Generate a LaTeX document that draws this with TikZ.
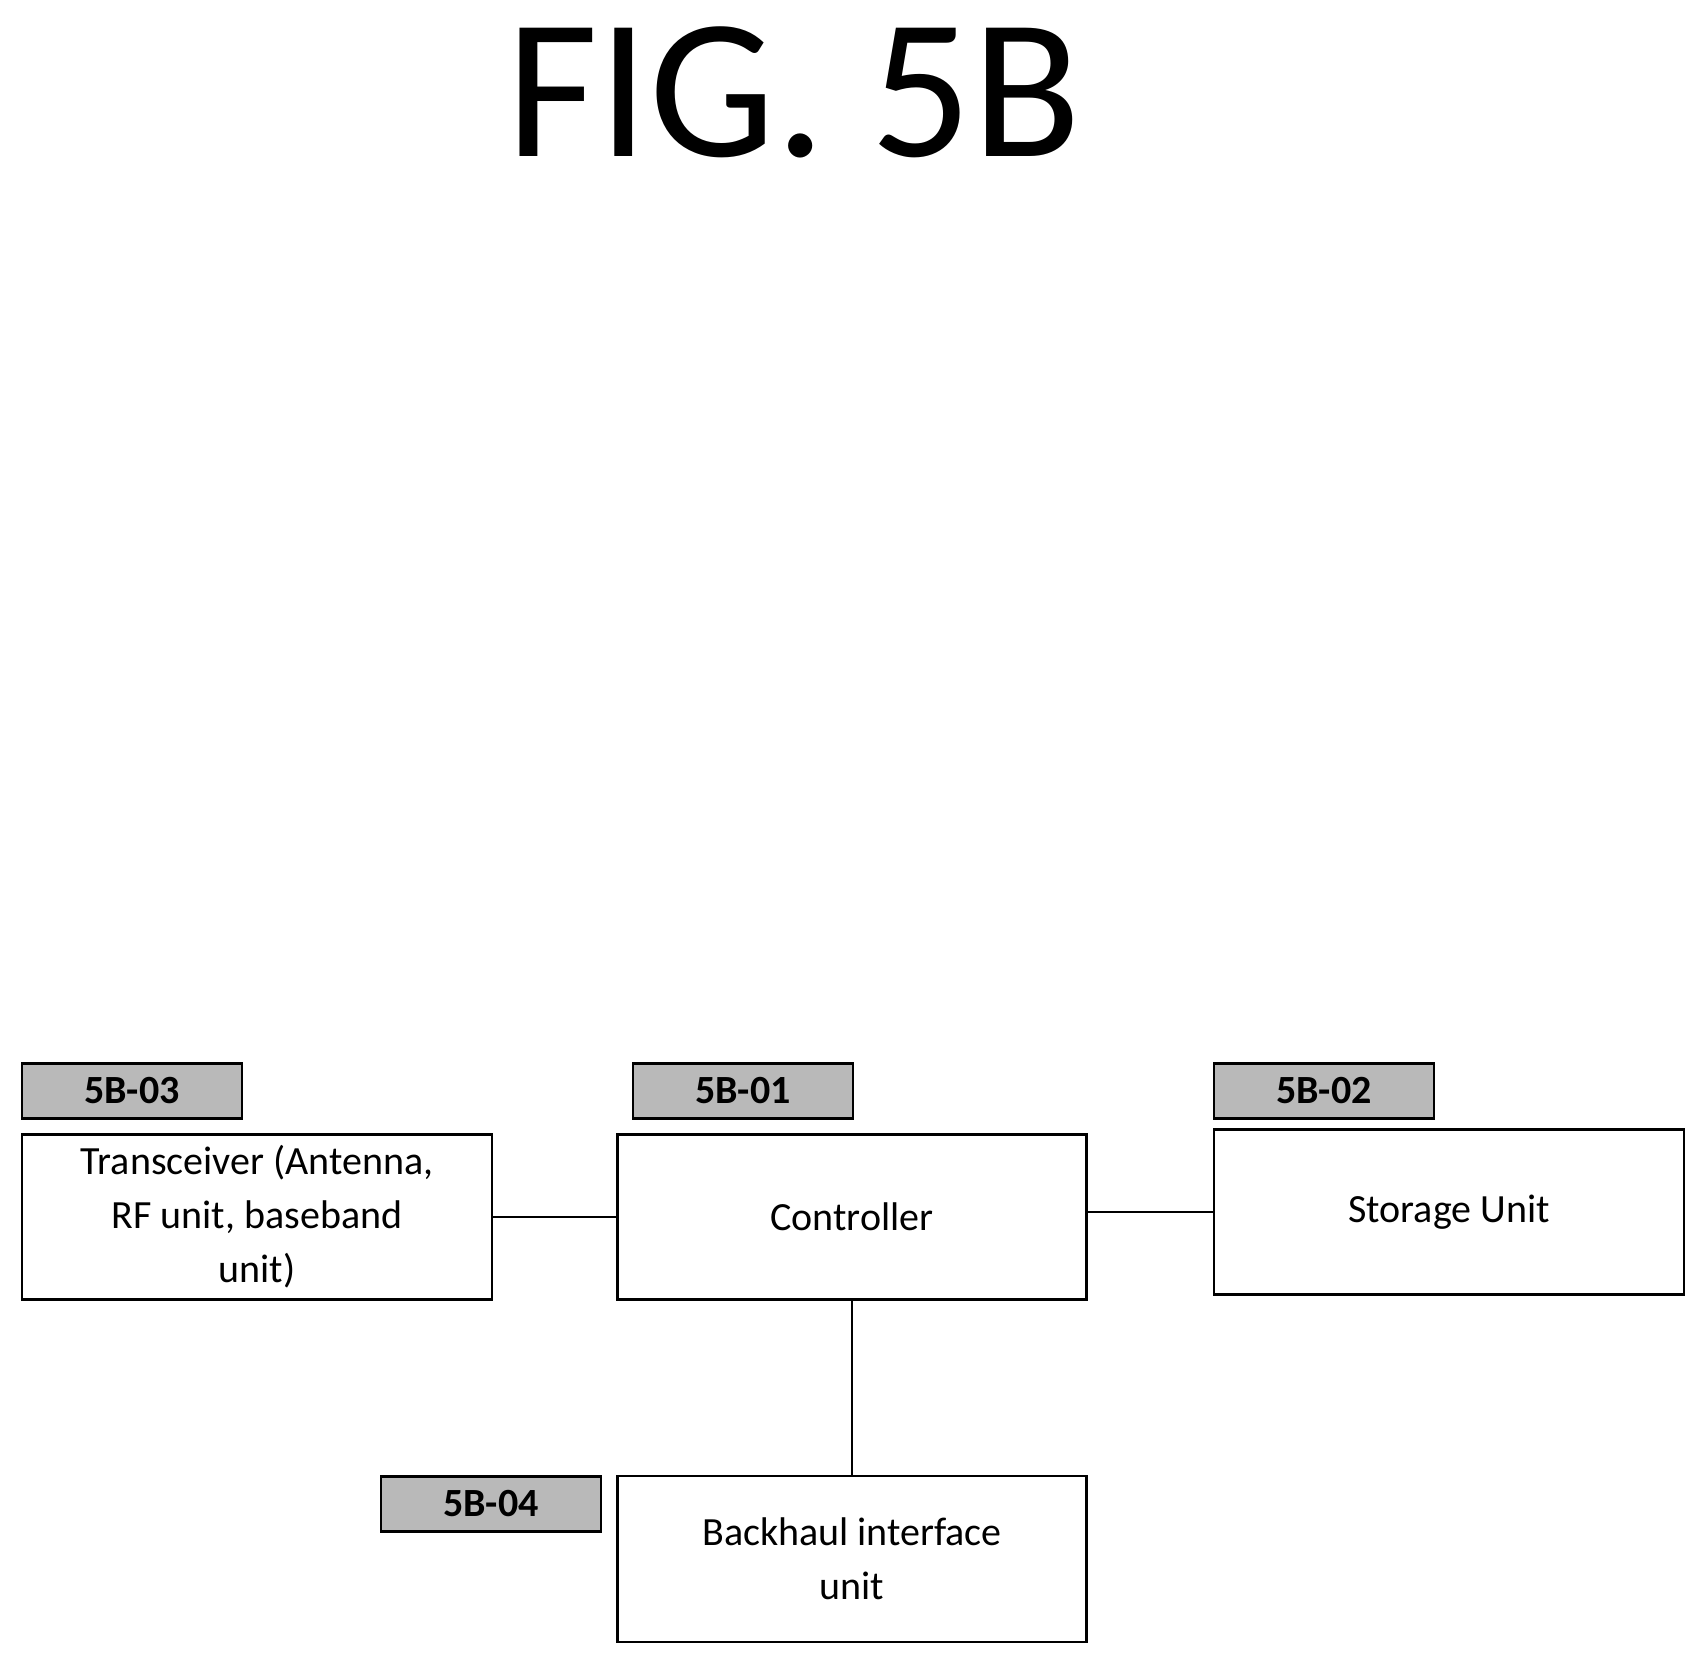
\documentclass[tikz,border=0pt]{standalone}
\usepackage{fontspec}
\setmainfont{Carlito}
\begin{document}
\begin{tikzpicture}[x=1pt,y=-1pt,
  box/.style={draw,line width=2.5pt,rectangle,align=center,font=\fontsize{40}{54}\selectfont},
  tag/.style={draw,line width=2.5pt,fill=gray!55,rectangle,font=\bfseries\fontsize{40}{48}\selectfont},
  link/.style={line width=2pt}]
\useasboundingbox (0,0) rectangle (1697,1656);
\node[font=\fontsize{200}{220}\selectfont] (title) at (794,92) {FIG. 5B};
\node[tag,minimum width=220,minimum height=55] (t3) at (132,1091) {5B-03};
\node[tag,minimum width=220,minimum height=55] (t1) at (743,1091) {5B-01};
\node[tag,minimum width=220,minimum height=55] (t2) at (1324,1091) {5B-02};
\node[tag,minimum width=220,minimum height=55] (t4) at (491,1504) {5B-04};
\node[box,minimum width=470,minimum height=165] (tr) at (257,1217) {Transceiver (Antenna,\\RF unit, baseband\\unit)};
\node[box,minimum width=469,minimum height=165] (ctl) at (852,1217) {Controller};
\node[box,minimum width=470,minimum height=165] (st) at (1449,1212) {Storage Unit};
\node[box,minimum width=469,minimum height=166] (bh) at (852,1559) {Backhaul interface\\unit};
\draw[link] (tr.east) -- (ctl.west);
\draw[link] (ctl.east |- st.west) -- (st.west);
\draw[link] (ctl.south) -- (bh.north);
\end{tikzpicture}
\end{document}
